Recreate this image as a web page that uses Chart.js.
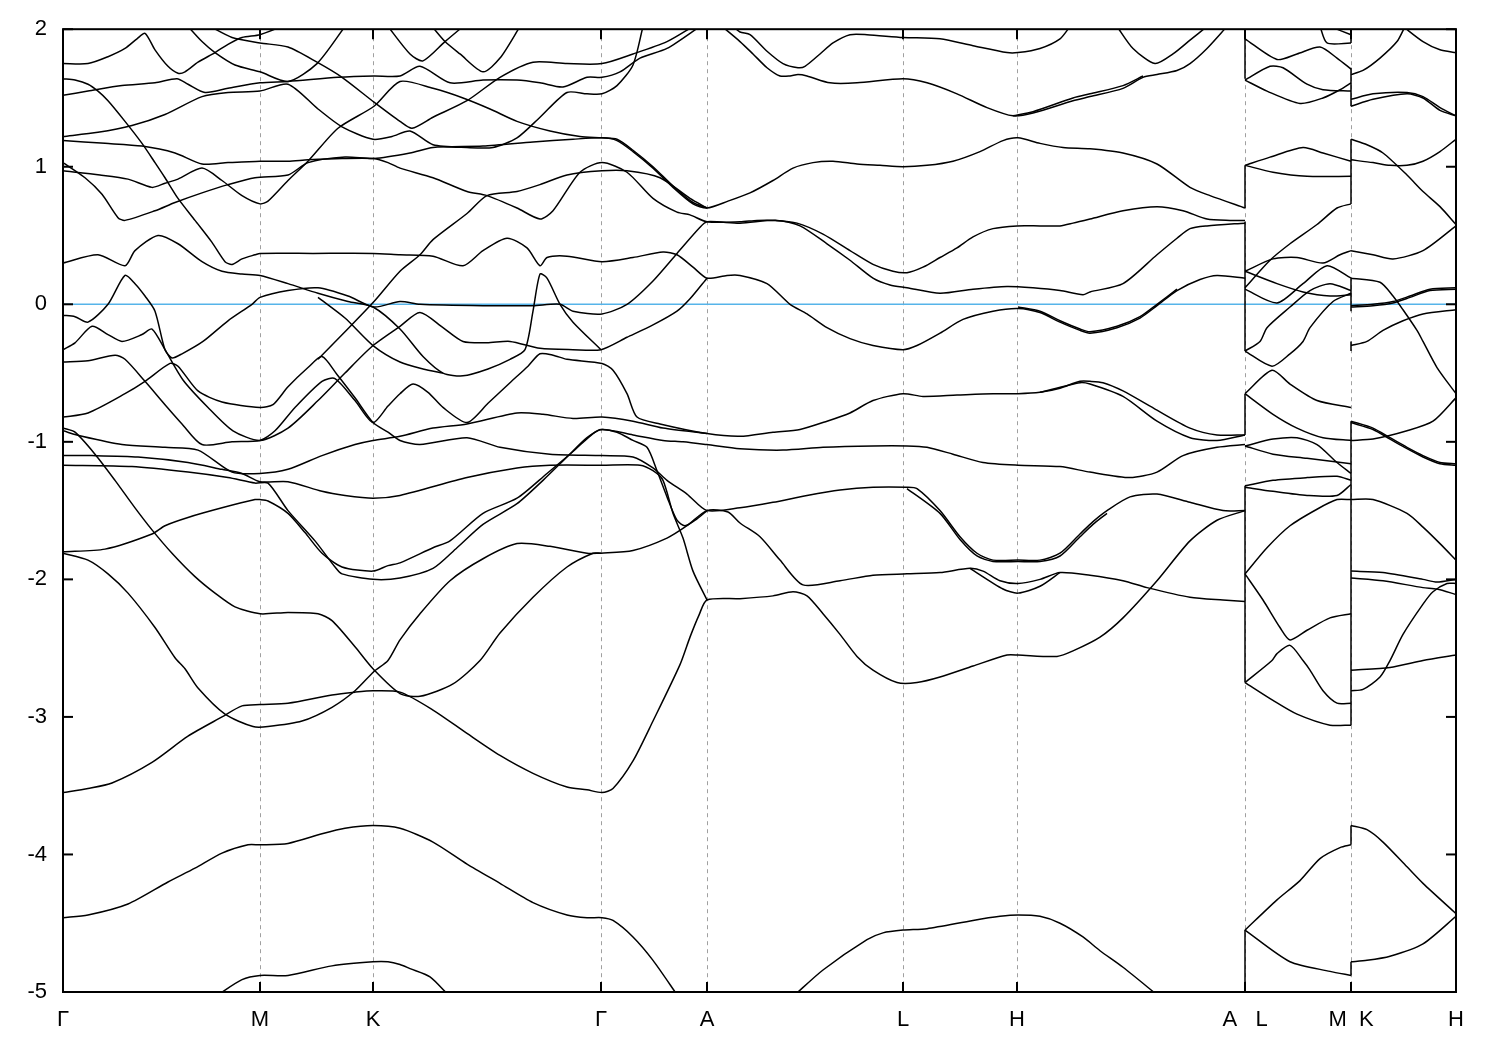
<!DOCTYPE html>
<html><head><meta charset="utf-8">
<script src="https://cdn.jsdelivr.net/npm/chart.js@4.4.1/dist/chart.umd.min.js"></script>
<style>html,body{margin:0;padding:0;background:#fff;}canvas{display:block;}</style>
</head><body>
<canvas id="c" width="1500" height="1050"></canvas>
<script>
// high-symmetry path positions and labels
const kTicks = [0, 0.197, 0.310, 0.538, 0.644, 0.840, 0.954, 1.182, 1.288, 1.393];
const kLabels = ['Γ', 'M', 'K', 'Γ', 'A', 'L', 'H', 'A   L', 'M  K', 'H'];
const yTickValues = [2, 1, 0, -1, -2, -3, -4, -5];
const fermiLevel = 0;

// band lines: [k, E(eV)]
const band1 = [[0,1.75],[.025,1.75],[.045,1.80],[.062,1.86],[.074,1.93],[.082,1.97],[.092,1.85],[.105,1.73],[.115,1.68],[.122,1.69],[.135,1.76],[.152,1.83],[.165,1.89],[.179,1.94],[.197,1.96],[.219,2.02]];
const band2 = [[0,1.64],[.012,1.63],[.025,1.60],[.035,1.55],[.045,1.48],[.062,1.33],[.079,1.17],[.092,1.03],[.102,0.92],[.115,0.77],[.132,0.61],[.149,0.45],[.162,0.31],[.169,0.29],[.179,0.33],[.192,0.36],[.197,0.37],[.250,0.37],[.310,0.37],[.337,0.36],[.370,0.35],[.400,0.28],[.420,0.39],[.444,0.48],[.464,0.41],[.477,0.28],[.484,0.34],[.504,0.35],[.539,0.31],[.570,0.34],[.600,0.38],[.614,0.36],[.630,0.27],[.644,0.19],[.664,0.21],[.677,0.21],[.704,0.15],[.727,0.0],[.744,-0.07],[.764,-0.17],[.787,-0.25],[.810,-0.30],[.840,-0.33],[.854,-0.30],[.877,-0.21],[.900,-0.11],[.930,-0.05],[.955,-0.03],[.977,-0.06],[.997,-0.13],[1.017,-0.19],[1.027,-0.21],[1.054,-0.17],[1.077,-0.10],[1.094,-0.01],[1.114,0.10],[1.137,0.18],[1.154,0.21],[1.182,0.19]];
const band2b = [[.955,-0.02],[.977,-0.05],[.997,-0.12],[1.017,-0.18],[1.027,-0.20],[1.054,-0.16],[1.077,-0.09],[1.094,0.0],[1.114,0.11]];
const band3a = [[0,1.52],[.025,1.55],[.059,1.59],[.092,1.61],[.114,1.64],[.125,1.60],[.142,1.54],[.165,1.57],[.197,1.61],[.225,1.62],[.275,1.65],[.311,1.66],[.337,1.66],[.357,1.73],[.387,1.61],[.420,1.63],[.454,1.63],[.477,1.61],[.500,1.58],[.524,1.65],[.539,1.65],[.557,1.69],[.577,1.79],[.604,1.86],[.637,2.02]];
const band3b = [[.147,2.02],[.169,1.94],[.197,1.90],[.225,1.87],[.254,1.76],[.279,1.65],[.311,1.47],[.337,1.33],[.349,1.28],[.370,1.36],[.404,1.48],[.437,1.65],[.470,1.76],[.504,1.75],[.539,1.75],[.570,1.82],[.604,1.91],[.630,2.02]];
const band3c = [[.125,2.02],[.139,1.91],[.152,1.83],[.172,1.74],[.197,1.69],[.225,1.62],[.254,1.75],[.282,2.02]];
const band3d = [[.325,2.02],[.347,1.82],[.360,1.77],[.382,1.91],[.400,2.02]];
const band3e = [[.369,2.02],[.382,1.91],[.397,1.82],[.420,1.69],[.437,1.79],[.457,2.02]];
const band4 = [[0,1.22],[.035,1.25],[.069,1.30],[.102,1.38],[.139,1.51],[.165,1.54],[.197,1.55],[.225,1.60],[.255,1.42],[.279,1.29],[.310,1.20],[.329,1.22],[.347,1.26],[.370,1.16],[.404,1.14],[.430,1.14],[.454,1.21],[.477,1.36],[.504,1.54],[.524,1.53],[.539,1.53],[.554,1.59],[.570,1.74],[.580,2.02]];
const band5 = [[0,1.19],[.042,1.17],[.079,1.15],[.112,1.10],[.139,1.02],[.165,1.03],[.197,1.04],[.225,1.04],[.245,1.05],[.279,1.06],[.311,1.06],[.325,1.03],[.337,0.99],[.370,0.92],[.404,0.82],[.424,0.79],[.454,0.70],[.477,0.62],[.490,0.68],[.517,0.96],[.539,1.03],[.564,0.96],[.590,0.77],[.614,0.67],[.627,0.65],[.644,0.60],[.677,0.60],[.694,0.61],[.710,0.61],[.734,0.59],[.760,0.51],[.787,0.39],[.810,0.29],[.830,0.24],[.844,0.23],[.860,0.27],[.877,0.34],[.894,0.41],[.910,0.49],[.930,0.55],[.954,0.57],[.977,0.57],[.997,0.57],[1.010,0.59],[1.027,0.62],[1.060,0.68],[1.094,0.71],[1.120,0.68],[1.144,0.62],[1.167,0.61],[1.182,0.61]];
const band6 = [[0,1.03],[.022,0.92],[.039,0.80],[.055,0.63],[.062,0.61],[.092,0.68],[.112,0.74],[.139,0.81],[.165,0.87],[.192,0.92],[.225,0.94],[.245,1.03],[.282,1.07],[.311,1.06],[.347,1.10],[.370,1.14],[.420,1.15],[.470,1.18],[.510,1.20],[.539,1.21],[.554,1.19],[.570,1.11],[.590,0.99],[.610,0.85],[.630,0.73],[.644,0.70],[.665,0.75],[.687,0.81],[.710,0.90],[.730,0.99],[.750,1.03],[.770,1.04],[.794,1.02],[.817,1.01],[.840,1.00],[.864,1.01],[.890,1.04],[.917,1.11],[.940,1.19],[.955,1.21],[.977,1.17],[1.000,1.14],[1.027,1.13],[1.060,1.10],[1.094,1.02],[1.127,0.85],[1.147,0.79],[1.182,0.70]];
const band7 = [[0,0.97],[.037,0.94],[.065,0.91],[.089,0.85],[.102,0.88],[.115,0.91],[.139,0.99],[.159,0.90],[.179,0.79],[.197,0.73],[.205,0.75],[.225,0.90],[.245,1.04],[.275,1.28],[.311,1.44],[.337,1.62],[.370,1.57],[.400,1.50],[.427,1.42],[.454,1.33],[.487,1.26],[.517,1.22],[.539,1.21],[.554,1.20],[.570,1.12],[.590,1.00],[.610,0.86],[.630,0.74],[.644,0.70]];
const band8 = [[0,0.30],[.035,0.36],[.062,0.28],[.072,0.39],[.095,0.50],[.115,0.44],[.139,0.31],[.159,0.24],[.179,0.22],[.197,0.21],[.225,0.15],[.255,0.08],[.285,0.02],[.310,-0.02],[.337,-0.18],[.360,-0.38],[.380,-0.50],[.400,-0.52],[.425,-0.47],[.447,-0.40],[.462,-0.33],[.470,-0.05],[.477,0.22],[.484,0.19],[.497,0.0],[.510,-0.13],[.538,-0.33]];
const bandQ = [[.255,-0.40],[.282,-0.20],[.311,0.02],[.337,0.24],[.357,0.36],[.370,0.47],[.404,0.66],[.424,0.79],[.454,0.82],[.477,0.87],[.504,0.94],[.539,0.97],[.564,0.97],[.597,0.92],[.627,0.77],[.644,0.70]];
const bandN = [[0,-0.08],[.012,-0.09],[.025,-0.13],[.045,0.0],[.062,0.21],[.072,0.15],[.082,0.06],[.092,-0.05],[.102,-0.33],[.109,-0.39],[.119,-0.36],[.140,-0.27],[.165,-0.12],[.189,0.0],[.197,0.05],[.225,0.10],[.255,0.12],[.285,0.06],[.311,-0.02],[.337,0.02],[.357,0.0],[.420,-0.01],[.470,-0.01],[.497,0.0],[.510,-0.05],[.539,-0.07],[.564,0.0],[.590,0.17],[.614,0.37],[.637,0.56],[.644,0.60],[.677,0.59],[.714,0.61],[.737,0.57],[.764,0.44],[.787,0.32],[.810,0.19],[.827,0.14],[.844,0.12],[.877,0.08],[.910,0.11],[.944,0.13],[.970,0.12],[.997,0.10],[1.020,0.07],[1.027,0.09],[1.060,0.15],[1.094,0.36],[1.114,0.48],[1.127,0.55],[1.144,0.57],[1.182,0.59]];
const bandO = [[0,-0.33],[.012,-0.28],[.029,-0.16],[.045,-0.22],[.059,-0.27],[.079,-0.22],[.089,-0.18],[.102,-0.33],[.120,-0.55],[.145,-0.75],[.170,-0.92],[.197,-0.99],[.225,-0.90],[.255,-0.70],[.282,-0.50],[.310,-0.30],[.337,-0.16],[.357,-0.06],[.380,-0.17],[.400,-0.27],[.424,-0.28],[.447,-0.27],[.477,-0.32],[.510,-0.33],[.538,-0.33],[.564,-0.24],[.590,-0.15],[.614,-0.05],[.627,0.04],[.644,0.19]];
const bandR = [[.255,0.05],[.282,-0.10],[.310,-0.30],[.337,-0.42],[.360,-0.47],[.380,-0.50]];
const bandM = [[0,-0.42],[.025,-0.41],[.052,-0.37],[.062,-0.40],[.082,-0.56],[.102,-0.73],[.119,-0.87],[.139,-1.02],[.169,-1.00],[.197,-0.99],[.212,-0.92],[.232,-0.75],[.259,-0.56],[.272,-0.54],[.292,-0.70],[.310,-0.86],[.325,-0.74],[.337,-0.65],[.350,-0.58],[.365,-0.64],[.380,-0.75],[.404,-0.86],[.425,-0.72],[.447,-0.57],[.465,-0.45],[.477,-0.36],[.490,-0.37],[.504,-0.40],[.539,-0.43],[.550,-0.48],[.564,-0.65],[.574,-0.82],[.597,-0.87],[.644,-0.94],[.677,-0.96],[.710,-0.93],[.737,-0.91],[.764,-0.85],[.787,-0.79],[.810,-0.70],[.840,-0.65],[.860,-0.67],[.894,-0.66],[.930,-0.65],[.955,-0.65],[.977,-0.64],[.997,-0.61],[1.017,-0.56],[1.027,-0.56],[1.040,-0.57],[1.060,-0.63],[1.094,-0.77],[1.127,-0.90],[1.154,-0.95],[1.182,-0.95]];
const bandMb = [[.977,-0.64],[1.017,-0.57],[1.027,-0.58],[1.060,-0.67],[1.094,-0.85],[1.127,-0.97],[1.154,-0.99],[1.182,-0.95]];
const bandL = [[0,-0.82],[.025,-0.79],[.062,-0.65],[.082,-0.56],[.107,-0.43],[.115,-0.45],[.135,-0.63],[.159,-0.71],[.197,-0.75],[.210,-0.73],[.225,-0.60],[.245,-0.46],[.259,-0.38],[.274,-0.51],[.292,-0.68],[.310,-0.86],[.325,-0.93],[.337,-0.99],[.357,-1.02],[.404,-0.97],[.437,-1.04],[.487,-1.09],[.539,-1.10],[.570,-1.11],[.590,-1.19],[.604,-1.28],[.624,-1.38],[.644,-1.50],[.677,-1.48],[.710,-1.44],[.744,-1.39],[.777,-1.35],[.810,-1.33],[.844,-1.33],[.854,-1.34],[.877,-1.50],[.897,-1.69],[.914,-1.81],[.930,-1.86],[.955,-1.86],[.977,-1.86],[.997,-1.81],[1.017,-1.67],[1.030,-1.58],[1.044,-1.50],[1.067,-1.40],[1.094,-1.38],[1.127,-1.44],[1.160,-1.50],[1.182,-1.50]];
const bandLb = [[.844,-1.34],[.877,-1.52],[.897,-1.71],[.914,-1.83],[.930,-1.87],[.955,-1.87],[.977,-1.87],[.997,-1.83],[1.017,-1.69],[1.030,-1.60],[1.044,-1.52]];
const bandP = [[0,-0.92],[.019,-0.96],[.059,-1.02],[.102,-1.04],[.135,-1.06],[.169,-1.22],[.197,-1.23],[.225,-1.20],[.259,-1.10],[.292,-1.02],[.310,-0.99],[.337,-0.96],[.370,-0.90],[.404,-0.87],[.454,-0.79],[.480,-0.80],[.510,-0.83],[.539,-0.82],[.570,-0.85],[.600,-0.90],[.644,-0.94]];
const bandG = [[0,-0.90],[.012,-0.93],[.032,-1.09],[.052,-1.28],[.072,-1.48],[.089,-1.64],[.109,-1.81],[.132,-1.98],[.152,-2.10],[.172,-2.20],[.197,-2.25],[.225,-2.24],[.255,-2.25],[.269,-2.30],[.292,-2.49],[.310,-2.65],[.337,-2.83],[.357,-2.85],[.390,-2.76],[.417,-2.59],[.437,-2.39],[.470,-2.13],[.504,-1.91],[.530,-1.81],[.538,-1.81],[.570,-1.79],[.604,-1.70],[.624,-1.61],[.644,-1.50],[.665,-1.51],[.677,-1.59],[.697,-1.69],[.717,-1.86],[.740,-2.04],[.777,-2.01],[.810,-1.97],[.844,-1.96],[.877,-1.95],[.907,-1.92],[.920,-1.94],[.937,-2.01],[.955,-2.03],[.977,-2.00],[.997,-1.95],[1.027,-1.97],[1.060,-2.01],[1.084,-2.06],[1.127,-2.13],[1.160,-2.15],[1.182,-2.16]];
const bandGb = [[.907,-1.92],[.940,-2.07],[.955,-2.10],[.977,-2.05],[.997,-1.95]];
const bandH = [[0,-1.81],[.025,-1.86],[.045,-1.96],[.065,-2.10],[.092,-2.35],[.112,-2.57],[.122,-2.65],[.135,-2.79],[.162,-2.98],[.190,-3.07],[.205,-3.07],[.239,-3.03],[.269,-2.93],[.292,-2.81],[.311,-2.67],[.325,-2.59],[.337,-2.44],[.357,-2.25],[.387,-2.01],[.420,-1.85],[.454,-1.74],[.487,-1.76],[.524,-1.81],[.538,-1.81]];
const bandI = [[0,-1.80],[.042,-1.78],[.089,-1.67],[.102,-1.61],[.125,-1.55],[.159,-1.48],[.192,-1.42],[.197,-1.42],[.205,-1.43],[.225,-1.52],[.242,-1.66],[.259,-1.81],[.279,-1.91],[.310,-1.94],[.325,-1.90],[.337,-1.88],[.370,-1.77],[.387,-1.72],[.420,-1.52],[.454,-1.41],[.484,-1.23],[.510,-1.07],[.530,-0.94],[.538,-0.91],[.554,-0.93],[.570,-0.99],[.584,-1.04],[.594,-1.21],[.604,-1.40],[.614,-1.57],[.622,-1.61],[.634,-1.56],[.644,-1.50]];
const bandJ = [[0,-1.10],[.029,-1.10],[.075,-1.11],[.125,-1.15],[.159,-1.20],[.179,-1.23],[.197,-1.29],[.225,-1.29],[.259,-1.36],[.282,-1.39],[.310,-1.41],[.337,-1.39],[.404,-1.26],[.454,-1.19],[.487,-1.17],[.539,-1.17],[.577,-1.17],[.590,-1.21],[.600,-1.28],[.610,-1.52],[.620,-1.70],[.630,-1.94],[.644,-2.15]];
const bandK = [[0,-1.17],[.069,-1.18],[.125,-1.22],[.165,-1.26],[.192,-1.30],[.205,-1.30],[.225,-1.50],[.252,-1.72],[.272,-1.91],[.279,-1.96],[.310,-2.00],[.337,-1.99],[.370,-1.92],[.394,-1.77],[.420,-1.60],[.454,-1.45],[.480,-1.28],[.504,-1.11],[.524,-0.97],[.539,-0.91],[.570,-0.95],[.600,-0.99],[.620,-1.00],[.644,-1.02],[.677,-1.05],[.720,-1.06],[.760,-1.04],[.810,-1.03],[.844,-1.03],[.864,-1.04],[.890,-1.09],[.920,-1.15],[.955,-1.17],[.997,-1.18],[1.027,-1.22],[1.067,-1.26],[1.094,-1.22],[1.120,-1.10],[1.154,-1.04],[1.182,-1.02]];
const bandA = [[0,-3.55],[.025,-3.52],[.049,-3.48],[.089,-3.33],[.125,-3.14],[.159,-3.00],[.179,-2.92],[.197,-2.91],[.225,-2.90],[.269,-2.84],[.292,-2.82],[.310,-2.81],[.337,-2.82],[.370,-2.95],[.404,-3.12],[.437,-3.28],[.470,-3.41],[.504,-3.51],[.524,-3.53],[.539,-3.55],[.550,-3.52],[.570,-3.32],[.590,-3.03],[.617,-2.62],[.627,-2.42],[.636,-2.26],[.644,-2.15],[.677,-2.14],[.710,-2.12],[.730,-2.09],[.744,-2.12],[.760,-2.25],[.777,-2.40],[.794,-2.56],[.810,-2.66],[.834,-2.75],[.854,-2.75],[.877,-2.71],[.910,-2.63],[.944,-2.55],[.955,-2.55],[.994,-2.56],[1.010,-2.52],[1.037,-2.42],[1.060,-2.28],[1.094,-2.01],[1.127,-1.72],[1.154,-1.57],[1.182,-1.50]];
const bandB = [[0,-4.46],[.025,-4.44],[.065,-4.36],[.105,-4.20],[.132,-4.10],[.159,-3.99],[.185,-3.93],[.197,-3.93],[.225,-3.92],[.259,-3.85],[.282,-3.81],[.310,-3.79],[.337,-3.81],[.370,-3.91],[.404,-4.07],[.437,-4.21],[.470,-4.35],[.504,-4.44],[.524,-4.46],[.539,-4.46],[.550,-4.48],[.570,-4.60],[.590,-4.77],[.614,-5.02]];
const bandC = [[.155,-5.02],[.179,-4.91],[.197,-4.88],[.225,-4.88],[.269,-4.81],[.310,-4.78],[.325,-4.78],[.337,-4.80],[.347,-4.83],[.367,-4.89],[.385,-5.02]];
const bandD = [[.732,-5.02],[.760,-4.84],[.804,-4.62],[.820,-4.57],[.840,-4.55],[.864,-4.54],[.910,-4.48],[.937,-4.45],[.955,-4.44],[.977,-4.45],[.997,-4.50],[1.020,-4.60],[1.037,-4.70],[1.060,-4.82],[1.094,-5.02]];
const bandT1 = [[.670,2.02],[.677,1.98],[.687,1.96],[.704,1.84],[.720,1.75],[.735,1.72],[.742,1.73],[.757,1.82],[.770,1.90],[.787,1.96],[.804,1.96],[.840,1.94],[.877,1.93],[.910,1.88],[.944,1.83],[.955,1.83],[.977,1.86],[.997,1.93],[1.007,2.02]];
const bandT2 = [[.659,2.02],[.677,1.91],[.690,1.82],[.704,1.72],[.717,1.66],[.727,1.66],[.735,1.67],[.744,1.66],[.767,1.61],[.794,1.61],[.840,1.64],[.864,1.61],[.894,1.53],[.924,1.43],[.950,1.37],[.970,1.39],[1.010,1.48],[1.027,1.51],[1.060,1.57],[1.080,1.65],[1.094,1.67],[1.114,1.70],[1.127,1.75],[1.144,1.86],[1.164,2.02]];
const bandT2b = [[.950,1.37],[.970,1.40],[1.010,1.50],[1.027,1.53],[1.060,1.59],[1.080,1.66]];
const bandT3 = [[1.054,2.02],[1.070,1.86],[1.092,1.75],[1.110,1.82],[1.127,1.92],[1.144,2.02]];
// L-M
const lmA = [[1.182,1.93],[1.214,1.78],[1.234,1.82],[1.257,1.87],[1.274,1.79],[1.288,1.71]];
const lmB = [[1.257,2.02],[1.264,1.90],[1.288,1.90]];
const lmB2 = [[1.267,2.02],[1.288,1.96]];
const lmC = [[1.182,1.63],[1.207,1.73],[1.220,1.72],[1.244,1.60],[1.260,1.56],[1.288,1.55]];
const lmD = [[1.182,1.63],[1.204,1.55],[1.237,1.46],[1.260,1.50],[1.277,1.56],[1.288,1.61]];
const lmE = [[1.182,1.01],[1.207,1.07],[1.240,1.14],[1.260,1.10],[1.288,1.04]];
const lmF = [[1.182,1.01],[1.210,0.96],[1.244,0.93],[1.288,0.93]];
const lmG = [[1.182,0.24],[1.210,0.33],[1.234,0.34],[1.260,0.30],[1.277,0.36],[1.288,0.39]];
const lmH = [[1.182,0.12],[1.207,0.32],[1.227,0.44],[1.254,0.58],[1.274,0.70],[1.288,0.73]];
const lmI = [[1.182,0.24],[1.214,0.15],[1.240,0.09],[1.267,0.06],[1.288,0.07]];
const lmJ = [[1.182,0.11],[1.214,0.01],[1.240,0.15],[1.264,0.28],[1.288,0.19]];
const lmK = [[1.182,-0.34],[1.197,-0.27],[1.204,-0.17],[1.227,-0.02],[1.247,0.10],[1.267,0.15],[1.288,0.10]];
const lmL = [[1.182,-0.34],[1.209,-0.45],[1.227,-0.36],[1.240,-0.27],[1.247,-0.17],[1.270,0.02],[1.288,0.08]];
const lmO = [[1.182,-0.65],[1.209,-0.48],[1.227,-0.58],[1.254,-0.70],[1.288,-0.75]];
const lmP = [[1.182,-0.65],[1.210,-0.80],[1.234,-0.90],[1.260,-0.97],[1.288,-0.99]];
const lmQ = [[1.182,-1.03],[1.210,-0.98],[1.234,-0.97],[1.254,-1.02],[1.274,-1.15],[1.288,-1.23]];
const lmR = [[1.182,-1.03],[1.210,-1.09],[1.244,-1.12],[1.288,-1.16]];
const lmS = [[1.182,-1.32],[1.210,-1.28],[1.244,-1.26],[1.274,-1.25],[1.288,-1.28]];
const lmT = [[1.182,-1.33],[1.210,-1.36],[1.244,-1.39],[1.274,-1.39],[1.288,-1.31]];
const lmU = [[1.182,-1.96],[1.204,-1.77],[1.227,-1.61],[1.254,-1.49],[1.274,-1.42],[1.288,-1.42]];
const lmV = [[1.182,-1.96],[1.200,-2.15],[1.217,-2.35],[1.227,-2.44],[1.244,-2.37],[1.267,-2.28],[1.288,-2.25]];
const lmW = [[1.182,-2.75],[1.209,-2.59],[1.214,-2.54],[1.227,-2.48],[1.240,-2.59],[1.247,-2.66],[1.260,-2.81],[1.274,-2.90],[1.288,-2.90]];
const lmX = [[1.182,-2.75],[1.210,-2.88],[1.234,-2.98],[1.267,-3.06],[1.288,-3.06]];
const lmY = [[1.182,-4.55],[1.214,-4.33],[1.237,-4.19],[1.257,-4.03],[1.277,-3.95],[1.288,-3.93]];
const lmZ = [[1.182,-4.55],[1.227,-4.78],[1.267,-4.85],[1.288,-4.88]];
// K-H
const kh1 = [[1.288,1.67],[1.300,1.70],[1.317,1.79],[1.334,1.91],[1.342,2.02]];
const kh2 = [[1.340,2.02],[1.360,1.91],[1.377,1.85],[1.393,1.83]];
const kh3 = [[1.288,1.49],[1.310,1.53],[1.344,1.54],[1.360,1.51],[1.377,1.43],[1.393,1.37]];
const kh4 = [[1.288,1.44],[1.310,1.49],[1.344,1.53],[1.360,1.50],[1.377,1.41],[1.393,1.37]];
const kh5 = [[1.288,1.05],[1.310,1.03],[1.327,1.01],[1.344,1.01],[1.360,1.04],[1.377,1.11],[1.393,1.20]];
const kh6 = [[1.288,1.20],[1.304,1.16],[1.320,1.10],[1.344,0.94],[1.360,0.82],[1.377,0.71],[1.393,0.58]];
const kh7 = [[1.288,0.39],[1.310,0.36],[1.330,0.33],[1.360,0.39],[1.393,0.57]];
const kh8 = [[1.288,0.19],[1.317,0.16],[1.330,0.06],[1.340,-0.04],[1.354,-0.19],[1.360,-0.27],[1.374,-0.46],[1.393,-0.65]];
const kh9 = [[1.288,-0.01],[1.310,0.0],[1.330,0.02],[1.347,0.06],[1.367,0.11],[1.393,0.12]];
const kh9b = [[1.288,-0.02],[1.310,-0.01],[1.330,0.01],[1.347,0.05],[1.367,0.10],[1.393,0.11]];
const kh10 = [[1.288,-0.30],[1.304,-0.27],[1.320,-0.19],[1.340,-0.12],[1.360,-0.07],[1.393,-0.04]];
const kh11 = [[1.288,-0.86],[1.310,-0.91],[1.327,-0.98],[1.344,-1.05],[1.360,-1.11],[1.377,-1.16],[1.393,-1.17]];
const kh11b = [[1.288,-0.85],[1.310,-0.90],[1.327,-0.97],[1.344,-1.04],[1.360,-1.10],[1.377,-1.15],[1.393,-1.16]];
const kh12 = [[1.288,-0.99],[1.310,-0.98],[1.344,-0.92],[1.370,-0.85],[1.393,-0.68]];
const kh13 = [[1.288,-1.42],[1.310,-1.42],[1.344,-1.52],[1.360,-1.62],[1.377,-1.74],[1.393,-1.86]];
const kh14 = [[1.288,-1.94],[1.320,-1.95],[1.360,-2.00],[1.374,-2.02],[1.393,-2.00]];
const kh15 = [[1.288,-1.99],[1.320,-2.01],[1.360,-2.06],[1.374,-2.07],[1.393,-2.11]];
const kh16 = [[1.288,-2.81],[1.300,-2.80],[1.317,-2.71],[1.327,-2.59],[1.340,-2.40],[1.360,-2.18],[1.370,-2.09],[1.384,-2.03],[1.393,-2.03]];
const kh17 = [[1.288,-2.66],[1.327,-2.64],[1.360,-2.59],[1.393,-2.55]];
const kh18 = [[1.288,-3.79],[1.304,-3.82],[1.320,-3.91],[1.344,-4.09],[1.360,-4.21],[1.393,-4.43]];
const kh19 = [[1.288,-4.78],[1.304,-4.77],[1.327,-4.74],[1.360,-4.65],[1.393,-4.45]];
// vertical discontinuities at the path breaks: [E from, E to]
const jumpsAL = [[2.02,1.64],[1.01,0.70],[0.60,-0.34],[-0.65,-0.95],[-1.32,-2.75],[-4.55,-5.02]];
const jumpsMK = [[2.02,1.90],[1.72,1.44],[1.20,0.73],[0.19,-0.05],[-0.27,-0.34],[-0.85,-3.06],[-3.79,-3.93],[-4.78,-4.88]];

const allBands = [band1,band2,band2b,band3a,band3b,band3c,band3d,band3e,band4,band5,band6,band7,band8,bandQ,bandN,bandO,bandR,bandM,bandMb,bandL,bandLb,bandP,bandG,bandGb,bandH,bandI,bandJ,bandK,bandA,bandB,bandC,bandD,bandT1,bandT2,bandT2b,bandT3,
  lmA,lmB,lmB2,lmC,lmD,lmE,lmF,lmG,lmH,lmI,lmJ,lmK,lmL,lmO,lmP,lmQ,lmR,lmS,lmT,lmU,lmV,lmW,lmX,lmY,lmZ,
  kh1,kh2,kh3,kh4,kh5,kh6,kh7,kh8,kh9,kh9b,kh10,kh11,kh11b,kh12,kh13,kh14,kh15,kh16,kh17,kh18,kh19];

const datasets = [];
allBands.forEach(b => datasets.push({
  data: b.map(p => ({x: p[0], y: p[1]})),
  borderColor: '#000', borderWidth: 1.5, pointRadius: 0, tension: 0.25, showLine: true, clip: 0
}));
jumpsAL.forEach(j => datasets.push({data: [{x: kTicks[7], y: j[0]}, {x: kTicks[7], y: j[1]}], borderColor: '#000', borderWidth: 1.5, pointRadius: 0, tension: 0, showLine: true, clip: 0}));
jumpsMK.forEach(j => datasets.push({data: [{x: kTicks[8], y: j[0]}, {x: kTicks[8], y: j[1]}], borderColor: '#000', borderWidth: 1.5, pointRadius: 0, tension: 0, showLine: true, clip: 0}));
datasets.push({data: [{x: kTicks[0], y: fermiLevel}, {x: kTicks[kTicks.length-1], y: fermiLevel}], borderColor: '#56b4e9', borderWidth: 1.6, pointRadius: 0, tension: 0, showLine: true, clip: 0});

const framePlugin = {
  id: 'frame',
  beforeDatasetsDraw(chart) {
    const {ctx, chartArea: a, scales: {x}} = chart;
    ctx.save();
    ctx.strokeStyle = '#a0a0a0'; ctx.lineWidth = 1; ctx.setLineDash([4, 4]);
    kTicks.slice(1, -1).forEach(v => {
      const px = Math.round(x.getPixelForValue(v)) + 0.5;
      ctx.beginPath(); ctx.moveTo(px, a.top); ctx.lineTo(px, a.bottom); ctx.stroke();
    });
    ctx.restore();
  },
  afterDatasetsDraw(chart) {
    const {ctx, chartArea: a, scales: {x, y}} = chart;
    ctx.save();
    ctx.strokeStyle = '#000'; ctx.lineWidth = 2; ctx.setLineDash([]);
    ctx.strokeRect(a.left, a.top, a.right - a.left, a.bottom - a.top);
    yTickValues.forEach(v => {
      const py = y.getPixelForValue(v);
      ctx.beginPath(); ctx.moveTo(a.left, py); ctx.lineTo(a.left + 10, py); ctx.stroke();
      ctx.beginPath(); ctx.moveTo(a.right, py); ctx.lineTo(a.right - 10, py); ctx.stroke();
    });
    kTicks.forEach(v => {
      const px = x.getPixelForValue(v);
      ctx.beginPath(); ctx.moveTo(px, a.bottom); ctx.lineTo(px, a.bottom - 10); ctx.stroke();
      ctx.beginPath(); ctx.moveTo(px, a.top); ctx.lineTo(px, a.top + 10); ctx.stroke();
    });
    ctx.restore();
  }
};

new Chart(document.getElementById('c'), {
  type: 'scatter',
  data: {datasets},
  options: {
    responsive: false, animation: false, devicePixelRatio: 1,
    layout: {padding: {top: 28, right: 44, left: 0, bottom: 0}},
    plugins: {legend: {display: false}, tooltip: {enabled: false}},
    scales: {
      x: {
        type: 'linear', min: 0, max: kTicks[kTicks.length-1],
        grid: {display: false, drawTicks: false}, border: {display: false},
        afterBuildTicks: s => { s.ticks = kTicks.map(v => ({value: v})); },
        afterFit: s => { s.height = 58; },
        ticks: {autoSkip: false, maxRotation: 0, padding: 15, color: '#000',
          font: {family: '"Liberation Sans", Arial, sans-serif', size: 22},
          callback: (v, i) => kLabels[i]}
      },
      y: {
        min: -5, max: 2,
        grid: {display: false, drawTicks: false}, border: {display: false},
        afterBuildTicks: s => { s.ticks = yTickValues.map(v => ({value: v})); },
        afterFit: s => { s.width = 63; },
        ticks: {padding: 16, color: '#000',
          font: {family: '"Liberation Sans", Arial, sans-serif', size: 22},
          callback: v => String(v)}
      }
    }
  },
  plugins: [framePlugin]
});
</script>
</body></html>
